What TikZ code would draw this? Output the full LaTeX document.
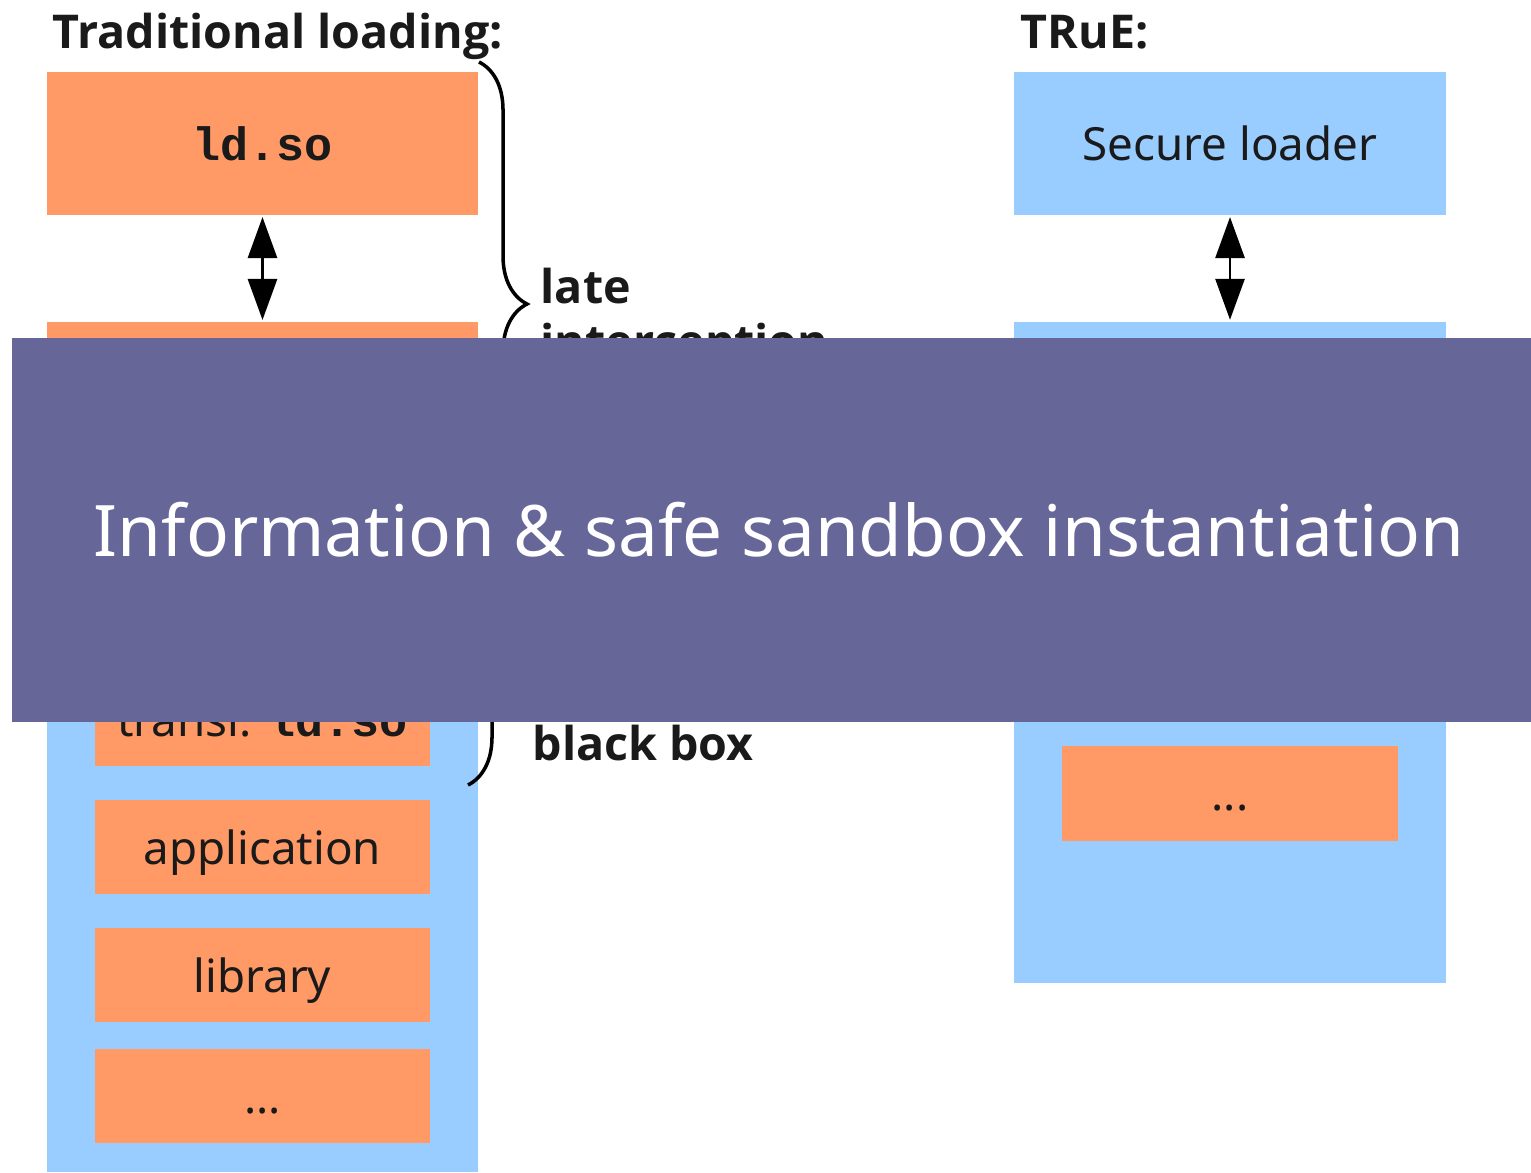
\documentclass[tikz,border=0pt]{standalone}
\usepackage{fontspec}
\setmainfont{Noto Sans}
\setmonofont{Liberation Mono}
\newfontfamily\labelfont{Open Sans}
\usetikzlibrary{positioning,arrows.meta,decorations.pathreplacing}
\definecolor{modorange}{HTML}{FF9966}
\definecolor{procblue}{HTML}{99CCFF}
\definecolor{bannerblue}{HTML}{666699}
\definecolor{ink}{HTML}{1A1A1A}
\newcommand{\ldso}{{\fontsize{13.3}{16}\selectfont\ttfamily\bfseries ld.so}}
\tikzset{
>={Triangle[length=0.41cm,width=0.29cm]},
loaderbox/.style={rectangle, minimum width=4.31cm, minimum height=1.43cm, inner sep=0pt, outer sep=0pt, text=ink, font=\fontsize{13}{16}\selectfont, text height=0.36cm, text depth=0.02cm},
procbox/.style={rectangle, fill=procblue, minimum width=4.31cm, inner sep=0pt, outer sep=0pt},
modbox/.style={rectangle, fill=modorange, minimum width=3.35cm, minimum height=0.94cm, inner sep=0pt, outer sep=0pt, text=ink, font=\fontsize{13}{16}\selectfont, text height=0.36cm, text depth=0.02cm},
heading/.style={anchor=base west, inner sep=0pt, text=ink, font=\labelfont\fontsize{13.25}{16}\selectfont\bfseries},
line/.style={draw, thick, <->, shorten <=0.02cm, shorten >=0.02cm},
tuborg/.style={draw, line width=1pt, decorate, decoration={brace, amplitude=0.48cm}},
banner/.style={rectangle, fill=bannerblue, minimum width=15.19cm, minimum height=3.84cm, inner sep=0pt, text=white, font=\fontsize{20.2}{24}\selectfont, text height=0.54cm, text depth=0.02cm},
}

\begin{document}
\begin{tikzpicture}[x=0.01cm, y=-0.01cm, node distance=0.34cm]
\useasboundingbox (0,0) rectangle (1531,1172);

% traditional loading
\node[heading] (trad_title) at (52,48) {Traditional loading:};
\node[loaderbox, fill=modorange] (ld_so) at (262.5,143.5) {\ldso};
\node[loaderbox, fill=modorange] (ld_next) at (262.5,393.5) {};
\path[line] (ld_so) -- (ld_next);

\node[procbox, minimum height=6.82cm] (trad_proc) at (262.5,831) {};
\node[modbox] (transl_ld) at (262.5,719) {transl. \ldso};
\node[modbox, below=of transl_ld] (app) {application};
\node[modbox, below=of app] (lib) {library};
\node[modbox, below=0.27cm of lib] (trad_more) {...};

\coordinate (late_top) at (479,62);
\coordinate (late_bottom) at (479,546);
\path[tuborg] (late_top) -- (late_bottom);
\node[heading] (late) at (540,303) {late};
\node[heading] (interception) at (540,358) {interception};

\coordinate (bb_top) at (468,560);
\coordinate (bb_bottom) at (468,785);
\path[tuborg] (bb_top) -- (bb_bottom);
\node[heading] (blackbox) at (532,760) {black box};

% TRuE
\node[heading] (true_title) at (1020,48) {TRuE:};
\node[loaderbox, fill=procblue] (sec_loader) at (1230,143.5) {Secure loader};
\node[procbox, minimum width=4.32cm, minimum height=6.61cm] (true_proc) at (1230,652.5) {};
\path[line] (sec_loader) -- (true_proc);
\node[modbox, minimum width=3.36cm] (true_more) at (1230,793.5) {...};

%\draw[help lines] (0,0) grid[step=1cm] (1531,1172);
\node[banner] (info_banner) at (771.5,530) {\hspace{0.15cm}Information \& safe sandbox instantiation};

\end{tikzpicture}
\end{document}
